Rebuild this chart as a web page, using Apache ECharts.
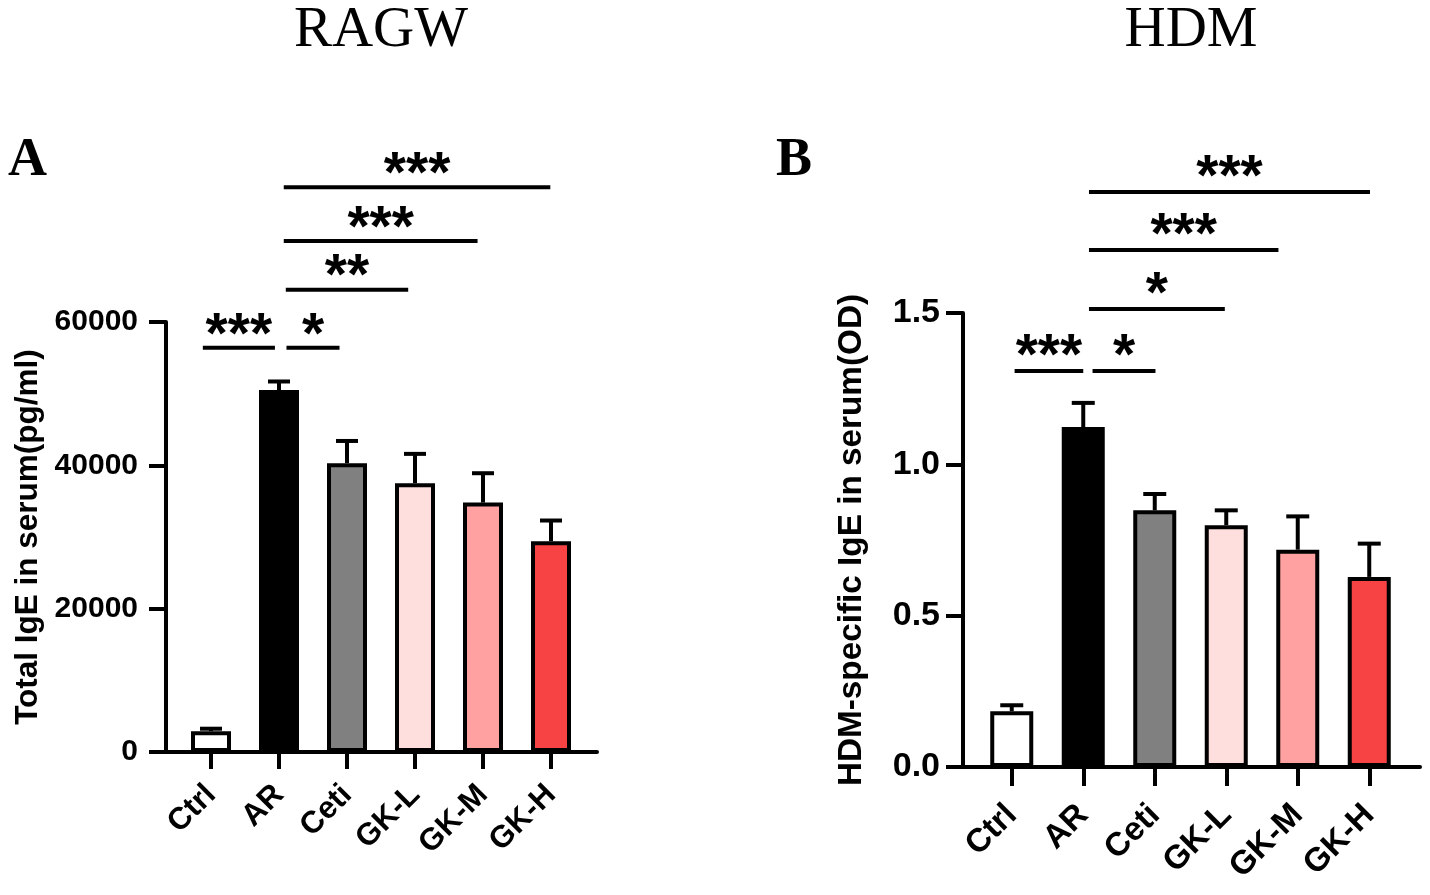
<!DOCTYPE html>
<html><head><meta charset="utf-8">
<script src="https://cdn.jsdelivr.net/npm/echarts@6/dist/echarts.min.js"></script>
<style>html,body{margin:0;padding:0;background:#fff}#c{width:1430px;height:895px}</style>
</head><body><div id="c"></div>
<script>
const categories = ['Ctrl', 'AR', 'Ceti', 'GK-L', 'GK-M', 'GK-H'];
const barColors = ['#ffffff', '#000000', '#808080', '#ffdede', '#ffa1a1', '#f74343'];
const meanA = [2900, 50500, 40300, 37500, 34800, 29400];
const upperA = [3250, 51700, 43400, 41600, 38900, 32300];
const meanB = [0.184, 1.123, 0.848, 0.799, 0.718, 0.628];
const upperB = [0.204, 1.203, 0.902, 0.848, 0.828, 0.738];
const ticksA = [0, 20000, 40000, 60000];
const ticksB = [0, 0.5, 1.0, 1.5];
const sigStartA = [-0.12, 1.11, 1.10, 1.07, 1.07];
const sigEndA = [0.94, 1.89, 2.90, 3.92, 4.99];
const sigLevelA = [56400, 56400, 64500, 71300, 78800];
const sigTextA = ['***', '*', '**', '***', '***'];
const sigStartB = [0.04, 1.13, 1.08, 1.08, 1.08];
const sigEndB = [1.00, 2.01, 2.98, 3.73, 5.01];
const sigLevelB = [1.308, 1.308, 1.513, 1.708, 1.900];
const sigTextB = ['***', '*', '*', '***', '***'];

const SANS = '"Liberation Sans", Arial, Helvetica, sans-serif';
const SERIF = '"Liberation Serif", "Times New Roman", serif';

function errorRender(upper, capW) {
  return function (params, api) {
    const i = params.dataIndex;
    const base = api.coord([i, api.value(1)]);
    const top = api.coord([i, upper[i]]);
    return { type: 'group', children: [
      { type: 'line', shape: { x1: base[0], y1: base[1], x2: top[0], y2: top[1] }, style: { stroke: '#000', lineWidth: 4 } },
      { type: 'line', shape: { x1: top[0] - capW / 2, y1: top[1], x2: top[0] + capW / 2, y2: top[1] }, style: { stroke: '#000', lineWidth: 4 } }
    ] };
  };
}
function sigRender(starts, ends, levels, texts, starGap) {
  return function (params, api) {
    const i = params.dataIndex;
    const c0 = api.coord([0, levels[i]]);
    const bw = api.coord([1, 0])[0] - api.coord([0, 0])[0];
    const x1 = c0[0] + starts[i] * bw, x2 = c0[0] + ends[i] * bw, y = c0[1];
    return { type: 'group', children: [
      { type: 'line', shape: { x1: x1, y1: y, x2: x2, y2: y }, style: { stroke: '#000', lineWidth: 4 } },
      { type: 'text', x: (x1 + x2) / 2, y: y - starGap, style: { text: texts[i], fill: '#000', font: 'bold 57px ' + SANS, align: 'center', verticalAlign: 'middle' } }
    ] };
  };
}
function catAxis(grid, fs, tickLen, margin) {
  return { type: 'category', gridIndex: grid, data: categories,
    axisLine: { show: false },
    axisTick: { show: true, alignWithLabel: true, length: tickLen, lineStyle: { width: 4, color: '#000' } },
    axisLabel: { interval: 0, rotate: 45, fontSize: fs, fontWeight: 'bold', fontFamily: SANS, color: '#000', margin: margin } };
}
function frameX(grid) {
  return { type: 'value', gridIndex: grid, min: 0, max: 1,
    axisLine: { show: true, lineStyle: { width: 4, color: '#000' } },
    axisTick: { show: false }, axisLabel: { show: false }, splitLine: { show: false } };
}
function hiddenY(grid, ticks) {
  return { type: 'value', gridIndex: grid, min: ticks[0], max: ticks[ticks.length - 1], show: false, splitLine: { show: false } };
}
function frameY(grid, ticks, name, fs, nfs, gap, margin, fmt) {
  return { type: 'value', gridIndex: grid, min: ticks[0], max: ticks[ticks.length - 1], interval: ticks[1] - ticks[0],
    axisLine: { show: true, lineStyle: { width: 4, color: '#000' } },
    axisTick: { show: true, length: 17, lineStyle: { width: 4, color: '#000' } },
    axisLabel: { fontSize: fs, fontWeight: 'bold', fontFamily: SANS, color: '#000', margin: margin, formatter: fmt },
    splitLine: { show: false },
    name: name, nameLocation: 'middle', nameGap: gap,
    nameTextStyle: { fontSize: nfs, fontWeight: 'bold', fontFamily: SANS, color: '#000' } };
}
function barData(vals) {
  return vals.map((v, i) => ({ value: v, itemStyle: { color: barColors[i] } }));
}

const chart = echarts.init(document.getElementById('c'), null, { renderer: 'canvas' });
chart.setOption({
  animation: false,
  backgroundColor: '#fff',
  grid: [
    { left: 177, top: 322, width: 408, height: 430 },
    { left: 166, top: 322, width: 431, height: 430 },
    { left: 976, top: 313, width: 429, height: 454 },
    { left: 963, top: 313, width: 457, height: 454 }
  ],
  xAxis: [catAxis(0, 31, 17, 38), frameX(1), catAxis(2, 33, 19, 43), frameX(3)],
  yAxis: [
    hiddenY(0, ticksA),
    frameY(1, ticksA, 'Total IgE in serum(pg/ml)', 30, 31.5, 122, 28, v => String(v)),
    hiddenY(2, ticksB),
    frameY(3, ticksB, 'HDM-specific IgE in serum(OD)', 34, 33.3, 95, 23, v => v.toFixed(1))
  ],
  graphic: [
    { type: 'text', x: 381, y: 31, style: { text: 'RAGW', font: '57px ' + SERIF, fill: '#000', align: 'center', verticalAlign: 'middle' } },
    { type: 'text', x: 1191, y: 31, style: { text: 'HDM', font: '57px ' + SERIF, fill: '#000', align: 'center', verticalAlign: 'middle' } },
    { type: 'text', x: 8, y: 161, style: { text: 'A', font: 'bold 54px ' + SERIF, fill: '#000', align: 'left', verticalAlign: 'middle' } },
    { type: 'text', x: 776, y: 161, style: { text: 'B', font: 'bold 54px ' + SERIF, fill: '#000', align: 'left', verticalAlign: 'middle' } }
  ],
  series: [
    { type: 'custom', xAxisIndex: 0, yAxisIndex: 0, z: 1, renderItem: errorRender(upperA, 22), data: meanA.map((m, i) => [i, m]) },
    { type: 'bar', xAxisIndex: 0, yAxisIndex: 0, z: 2, barWidth: 40, data: barData(meanA),
      itemStyle: { borderColor: '#000', borderWidth: 4 } },
    { type: 'custom', xAxisIndex: 0, yAxisIndex: 0, z: 3, clip: false, renderItem: sigRender(sigStartA, sigEndA, sigLevelA, sigTextA, 11), data: sigLevelA.map(v => [0, v]) },
    { type: 'custom', xAxisIndex: 2, yAxisIndex: 2, z: 1, renderItem: errorRender(upperB, 23), data: meanB.map((m, i) => [i, m]) },
    { type: 'bar', xAxisIndex: 2, yAxisIndex: 2, z: 2, barWidth: 43, data: barData(meanB),
      itemStyle: { borderColor: '#000', borderWidth: 4 } },
    { type: 'custom', xAxisIndex: 2, yAxisIndex: 2, z: 3, clip: false, renderItem: sigRender(sigStartB, sigEndB, sigLevelB, sigTextB, 13), data: sigLevelB.map(v => [0, v]) }
  ]
});
</script></body></html>
